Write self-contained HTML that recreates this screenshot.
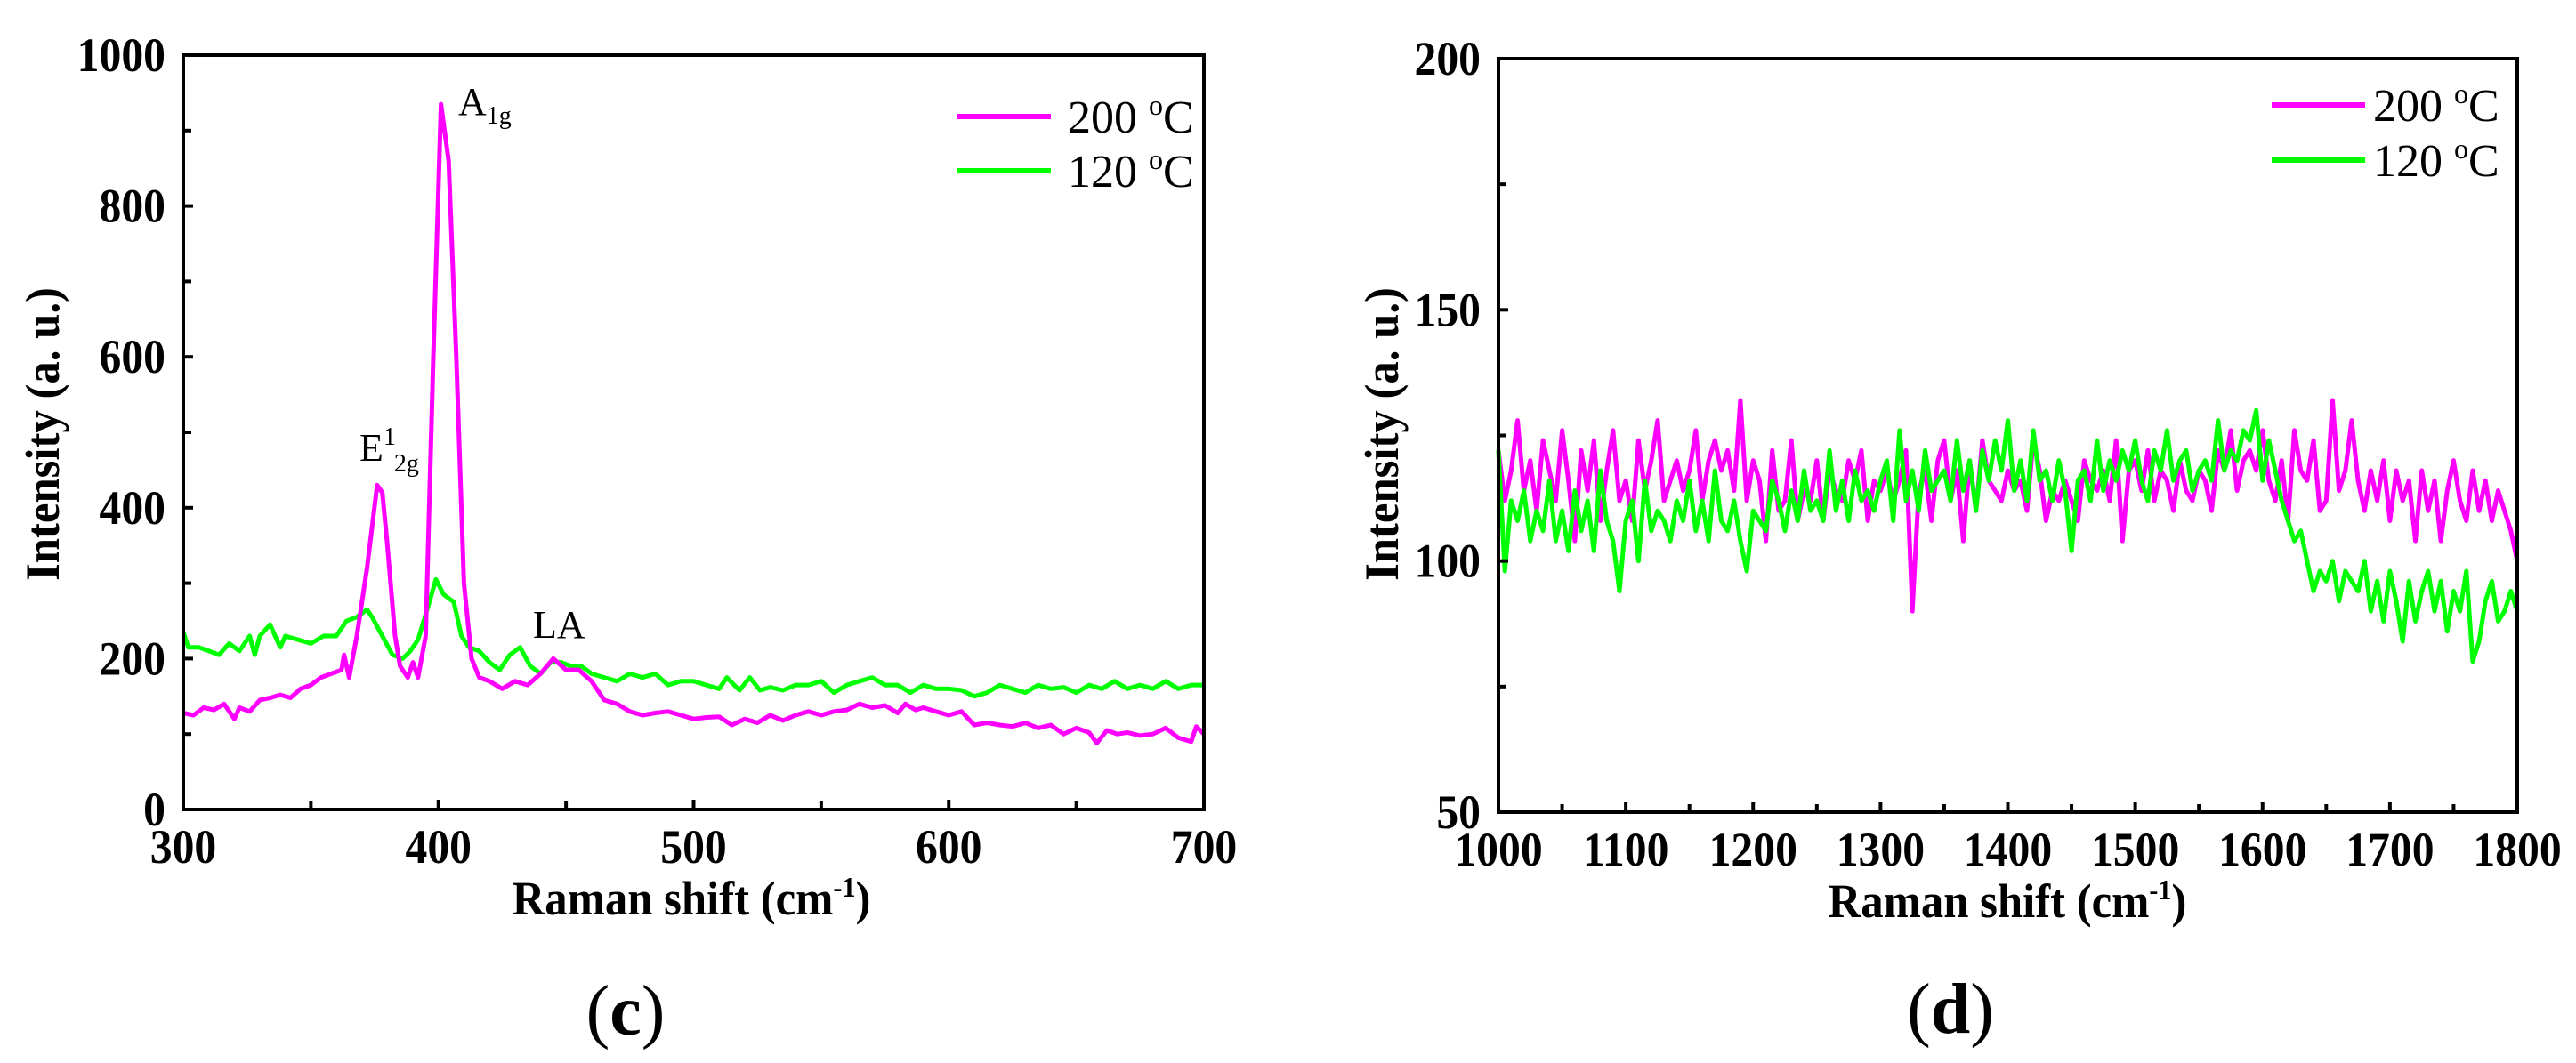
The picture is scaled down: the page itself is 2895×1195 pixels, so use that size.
<!DOCTYPE html>
<html><head><meta charset="utf-8">
<style>
html,body{margin:0;padding:0;background:#fff;}
svg{display:block;font-family:"Liberation Serif",serif;}
</style></head>
<body>
<svg id="fig" width="2895" height="1195" viewBox="0 0 2895 1195" xmlns="http://www.w3.org/2000/svg"></svg>
<script>
// ---- Panel (c) data ----
const cX200 = [300,304,308,312,316,320,322,326,330,334,338,342,346,350,354,358,362,363,365,368,372,376,378,380,383,385,388,390,392,395,398,401,404,407,410,413,416,420,425,430,435,440,445,450,455,460,465,470,475,480,485,490,495,500,505,510,515,520,525,530,535,540,545,550,555,560,565,570,575,580,583,587,590,595,600,605,610,615,620,625,630,635,640,645,650,655,658,662,666,670,675,680,685,690,695,697,700];
const cY200 = [128,125,135,132,140,120,135,130,145,148,152,148,160,165,175,180,185,205,175,230,320,430,420,350,230,190,175,195,175,230,600,935,860,600,300,200,175,170,160,170,165,180,200,185,185,170,145,140,130,125,128,130,125,120,122,123,112,120,115,125,118,125,130,125,130,132,140,135,138,128,140,132,135,130,125,130,112,115,112,110,115,108,112,100,108,102,88,105,100,102,98,100,108,95,90,110,100];
const cX120 = [300,302,306,310,314,318,322,326,328,330,334,338,340,345,350,355,360,364,368,372,374,378,382,386,389,392,396,399,402,406,409,412,416,420,424,428,432,436,440,444,448,452,456,460,465,470,475,480,485,490,495,500,505,510,513,518,522,526,530,535,540,545,550,555,560,565,570,575,580,585,590,595,600,605,610,615,620,625,630,635,640,645,650,655,660,665,670,675,680,685,690,695,700];
const cY120 = [235,215,215,210,205,220,210,230,205,230,245,215,230,225,220,230,230,250,255,265,255,230,205,200,210,225,270,305,285,275,230,215,210,195,185,205,215,190,180,195,195,190,190,180,175,170,180,175,180,165,170,170,165,160,175,158,175,158,162,158,165,165,170,155,165,170,175,165,165,155,165,160,160,158,150,155,165,160,155,165,160,162,155,165,160,170,160,165,160,170,160,165,165];
const cXTicks = [300,400,500,600,700];
const cYTicks = [0,200,400,600,800,1000];

// ---- Panel (d) data (x = 1000..1800 step 5) ----
const dStart = 1000, dStep = 5;
const dY200 = [122,112,118,128,114,120,110,124,118,112,
126,116,104,122,114,124,108,118,126,112,
116,108,124,114,120,128,112,116,120,114,
118,126,112,120,124,118,122,114,132,112,
120,116,104,122,110,112,124,108,114,112,
120,108,118,114,112,120,116,122,108,116,
114,118,112,116,122,90,114,118,108,120,
124,112,118,104,120,110,124,116,114,112,
118,114,116,110,124,118,108,114,112,116,
112,108,120,116,114,118,112,124,104,118,
120,114,122,112,118,116,110,120,114,112,
118,116,110,122,118,126,114,120,122,118,
126,116,112,120,108,126,118,116,124,110,
112,132,114,118,128,116,110,118,112,120,
108,118,112,116,104,118,110,116,104,114,
120,112,108,118,110,116,108,114,110,106,100];
const dY120 = [122,98,112,108,114,104,110,106,116,104,
110,102,114,106,112,102,118,108,104,94,
108,112,100,116,106,110,108,104,112,108,
116,106,112,104,118,108,106,112,104,98,
110,108,106,116,112,106,114,108,118,110,
112,108,122,110,116,108,118,112,114,110,
116,120,108,126,112,118,110,122,114,116,
118,112,124,114,120,110,122,116,124,118,
128,114,120,112,126,116,118,112,120,114,
102,116,118,112,124,114,120,116,122,118,
124,116,112,122,118,126,116,120,122,114,
118,120,116,128,118,122,120,126,124,130,
116,124,118,112,108,104,106,100,94,98,
96,100,92,98,96,94,100,90,96,88,
98,92,84,96,88,94,98,90,96,86,
94,90,98,80,84,92,96,88,90,94,90];
const dXTicks = [1000,1100,1200,1300,1400,1500,1600,1700,1800];
const dYTicks = [50,100,150,200];

const NS = "http://www.w3.org/2000/svg";
const svg = document.getElementById('fig');
function mk(tag, attrs, parent){
  const e = document.createElementNS(NS, tag);
  for (const k in attrs) e.setAttribute(k, attrs[k]);
  (parent||svg).appendChild(e);
  return e;
}
function scale(d0,d1,r0,r1){ return v => r0 + (v-d0)/(d1-d0)*(r1-r0); }

function panel(o){
  const g = mk('g', {});
  
  
  const sx = scale(o.xmin,o.xmax,o.L,o.R), sy = scale(o.ymin,o.ymax,o.B,o.T);
  o.series.forEach(s=>{
    let d='';
    s.y.forEach((v,i)=>{ d += (i?'L':'M') + sx(s.x[i]).toFixed(1) + ' ' + sy(v).toFixed(1); });
    const p = mk('path', {d:d, fill:'none', stroke:s.color, 'stroke-width':5, 'stroke-linejoin':'round'}, g);
    
    
  });
  const fr = mk('rect', {x:o.L, y:o.T, width:o.R-o.L, height:o.B-o.T, fill:'none', stroke:'#000', 'stroke-width':4}, g);
  
  
  o.xTicks.forEach((v,i)=>{
    const x = sx(v);
    mk('line', {x1:x, x2:x, y1:o.B, y2:o.B-11, stroke:'#000','stroke-width':4}, g);
    if (i < o.xTicks.length-1){
      const xm = sx(v + (o.xTicks[1]-o.xTicks[0])/2);
      mk('line', {x1:xm, x2:xm, y1:o.B, y2:o.B-9, stroke:'#000','stroke-width':4}, g);
    }
    const t = mk('text', {x:x, y:o.B+60, 'text-anchor':'middle','font-size':54,'font-weight':'bold', transform:`translate(${x},0) scale(0.92,1) translate(${-x},0)`}, g);
    t.textContent = v;
    
    
  });
  o.yTicks.forEach((v,i)=>{
    const y = sy(v);
    mk('line', {x1:o.L, x2:o.L+11, y1:y, y2:y, stroke:'#000','stroke-width':4}, g);
    if (i < o.yTicks.length-1){
      const ym = sy(v + (o.yTicks[1]-o.yTicks[0])/2);
      mk('line', {x1:o.L, x2:o.L+9, y1:ym, y2:ym, stroke:'#000','stroke-width':4}, g);
    }
    const xr = o.L-20;
    const t = mk('text', {x:xr, y:y+18, 'text-anchor':'end','font-size':54,'font-weight':'bold', transform:`translate(${xr},0) scale(0.92,1) translate(${-xr},0)`}, g);
    t.textContent = v;
    
    
  });
  return {g, sx, sy};
}

function addHTML(parent, markup){
  const tmp = document.createElementNS(NS,'g');
  tmp.innerHTML = markup;
  while (tmp.firstChild) parent.appendChild(tmp.firstChild);
}

const dX = dY200.map((_,i)=> dStart + i*dStep);

const pc = panel({name:'panel-c', L:206, R:1353, T:62, B:910, xmin:300, xmax:700, ymin:0, ymax:1000,
  xTicks:cXTicks, yTicks:cYTicks,
  series:[{name:'series-120C', x:cX120, y:cY120, color:'#00ff00'},{name:'series-200C', x:cX200, y:cY200, color:'#ff00ff'}]});
const pd = panel({name:'panel-d', L:1684, R:2829, T:66, B:913, xmin:1000, xmax:1800, ymin:50, ymax:200,
  xTicks:dXTicks, yTicks:dYTicks,
  series:[{name:'series-200C', x:dX, y:dY200, color:'#ff00ff'},{name:'series-120C', x:dX, y:dY120, color:'#00ff00'}]});

addHTML(svg, `
<g>
 <line x1="1075" x2="1181" y1="131" y2="131" stroke="#ff00ff" stroke-width="6"/>
 <text x="1200" y="149" font-size="52">200 <tspan font-size="32" dy="-20">o</tspan><tspan dy="20">C</tspan></text>
 <line x1="1075" x2="1181" y1="192" y2="192" stroke="#00ff00" stroke-width="6"/>
 <text x="1200" y="210" font-size="52">120 <tspan font-size="32" dy="-20">o</tspan><tspan dy="20">C</tspan></text>
</g>
<g>
 <line x1="2553" x2="2658" y1="118" y2="118" stroke="#ff00ff" stroke-width="6"/>
 <text x="2667" y="136" font-size="52">200 <tspan font-size="32" dy="-20">o</tspan><tspan dy="20">C</tspan></text>
 <line x1="2553" x2="2658" y1="180" y2="180" stroke="#00ff00" stroke-width="6"/>
 <text x="2667" y="198" font-size="52">120 <tspan font-size="32" dy="-20">o</tspan><tspan dy="20">C</tspan></text>
</g>
<text x="515" y="129" font-size="44">A<tspan font-size="28" dy="10">1g</tspan></text>
<text x="404" y="518" font-size="44">E<tspan font-size="28" dy="-18">1</tspan><tspan font-size="28" dy="30" dx="-2">2g</tspan></text>
<text x="599" y="717" font-size="44">LA</text>
<text x="777" y="1028" font-size="54" font-weight="bold" text-anchor="middle" transform="translate(777,0) scale(0.94,1) translate(-777,0)">Raman shift (cm<tspan font-size="32" dy="-20">-1</tspan><tspan dy="20">)</tspan></text>
<text x="2256" y="1031" font-size="54" font-weight="bold" text-anchor="middle" transform="translate(2256,0) scale(0.94,1) translate(-2256,0)">Raman shift (cm<tspan font-size="32" dy="-20">-1</tspan><tspan dy="20">)</tspan></text>
<text transform="translate(66,488) rotate(-90) scale(0.94,1)" font-size="54" font-weight="bold" text-anchor="middle">Intensity (a. u.)</text>
<text transform="translate(1571,488) rotate(-90) scale(0.94,1)" font-size="54" font-weight="bold" text-anchor="middle">Intensity (a. u.)</text>
<text x="703" y="1163" font-size="80" text-anchor="middle">(<tspan font-weight="bold">c</tspan>)</text>
<text x="2192" y="1161" font-size="80" text-anchor="middle">(<tspan font-weight="bold">d</tspan>)</text>
`);
</script>
</body></html>
